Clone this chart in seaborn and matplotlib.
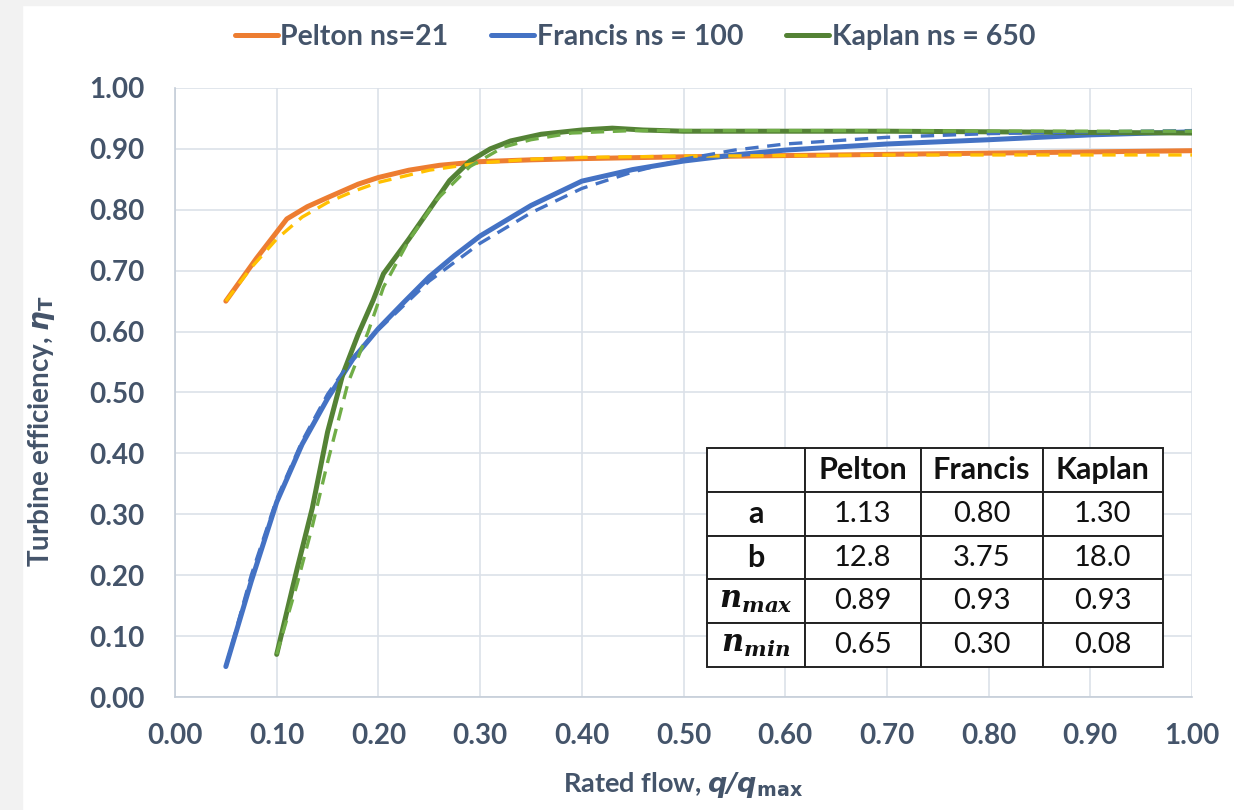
import numpy as np
import matplotlib
matplotlib.use('Agg')
import matplotlib.pyplot as plt
import seaborn as sns
from matplotlib.patches import Rectangle
from matplotlib.lines import Line2D

# efficiency curves (q/qmax, eta)
pelton_x = [0.05, 0.08, 0.11, 0.13, 0.15, 0.18, 0.20, 0.23, 0.26, 0.30, 0.35, 0.40, 0.50, 0.60, 0.70, 0.80, 0.90, 1.00]
pelton_y = [0.65, 0.72, 0.785, 0.805, 0.82, 0.842, 0.853, 0.865, 0.873, 0.879, 0.882, 0.884, 0.887, 0.889, 0.891, 0.893, 0.895, 0.897]
pelton_fit_x = [0.05, 0.075, 0.10, 0.125, 0.15, 0.175, 0.20, 0.25, 0.30, 0.35, 0.40, 0.50, 0.60, 0.70, 0.80, 0.90, 1.00]
pelton_fit_y = [0.65, 0.705, 0.752, 0.788, 0.812, 0.83, 0.845, 0.865, 0.877, 0.883, 0.886, 0.888, 0.889, 0.89, 0.89, 0.89, 0.89]

francis_x = [0.05, 0.075, 0.10, 0.125, 0.15, 0.175, 0.20, 0.225, 0.25, 0.275, 0.30, 0.35, 0.40, 0.45, 0.50, 0.55, 0.60, 0.70, 0.80, 0.90, 1.00]
francis_y = [0.05, 0.19, 0.32, 0.415, 0.49, 0.555, 0.605, 0.648, 0.69, 0.725, 0.757, 0.807, 0.847, 0.866, 0.88, 0.89, 0.898, 0.908, 0.915, 0.923, 0.928]
francis_fit_x = [0.05, 0.075, 0.10, 0.125, 0.15, 0.175, 0.20, 0.25, 0.30, 0.35, 0.40, 0.45, 0.50, 0.55, 0.60, 0.70, 0.80, 0.90, 1.00]
francis_fit_y = [0.05, 0.20, 0.325, 0.42, 0.497, 0.557, 0.603, 0.683, 0.745, 0.795, 0.835, 0.862, 0.883, 0.898, 0.908, 0.919, 0.925, 0.928, 0.93]

kaplan_x = [0.10, 0.12, 0.135, 0.15, 0.165, 0.18, 0.195, 0.205, 0.23, 0.25, 0.27, 0.29, 0.31, 0.33, 0.36, 0.40, 0.43, 0.46, 0.50, 0.60, 0.70, 0.80, 0.90, 1.00]
kaplan_y = [0.07, 0.21, 0.31, 0.435, 0.53, 0.595, 0.652, 0.695, 0.752, 0.80, 0.848, 0.88, 0.90, 0.913, 0.924, 0.931, 0.934, 0.931, 0.929, 0.929, 0.929, 0.928, 0.927, 0.926]
kaplan_fit_x = [0.10, 0.12, 0.135, 0.15, 0.17, 0.19, 0.205, 0.23, 0.257, 0.29, 0.323, 0.35, 0.39, 0.45, 0.50, 0.60, 0.70, 0.80, 0.90, 1.00]
kaplan_fit_y = [0.07, 0.185, 0.28, 0.385, 0.515, 0.60, 0.673, 0.75, 0.816, 0.871, 0.903, 0.915, 0.926, 0.93, 0.93, 0.93, 0.93, 0.929, 0.929, 0.929]

# table of fit parameters
table_cols = ['Pelton', 'Francis', 'Kaplan']
row_a = ['1.13', '0.80', '1.30']
row_b = ['12.8', '3.75', '18.0']
row_nmax = ['0.89', '0.93', '0.93']
row_nmin = ['0.65', '0.30', '0.08']

legend_labels = ['Pelton ns=21', 'Francis ns = 100', 'Kaplan ns = 650']

sns.set_theme(style='white')
plt.rcParams['font.family'] = ['Lato', 'DejaVu Sans']
txt = '#44546A'

fig, ax = plt.subplots(figsize=(12.34, 8.10), dpi=100)
fig.subplots_adjust(left=0.1418, right=0.966, bottom=0.1395, top=0.8914)

# grey strips at the edge of the screenshot
fig.add_artist(Rectangle((0, 0), 22 / 1234, 1, transform=fig.transFigure, color='#F2F2F2', zorder=-10))
fig.add_artist(Rectangle((0, 1 - 5 / 810), 1, 5 / 810, transform=fig.transFigure, color='#F2F2F2', zorder=-10))

solid_lw = 3.6
dash_lw = 2.4
dash = (0, (4, 2.6))

sns.lineplot(x=pelton_x, y=pelton_y, ax=ax, color='#ED7D31', lw=solid_lw, solid_capstyle='round')
sns.lineplot(x=francis_x, y=francis_y, ax=ax, color='#4472C4', lw=solid_lw, solid_capstyle='round')
sns.lineplot(x=kaplan_x, y=kaplan_y, ax=ax, color='#548235', lw=solid_lw, solid_capstyle='round')
sns.lineplot(x=pelton_fit_x, y=pelton_fit_y, ax=ax, color='#FFC000', lw=dash_lw, ls=dash)
sns.lineplot(x=francis_fit_x, y=francis_fit_y, ax=ax, color='#4472C4', lw=dash_lw, ls=dash)
sns.lineplot(x=kaplan_fit_x, y=kaplan_fit_y, ax=ax, color='#70AD47', lw=dash_lw, ls=dash)

ax.set_xlim(0, 1)
ax.set_ylim(0, 1)
ticks = np.arange(0, 1.001, 0.1)
ax.set_xticks(ticks)
ax.set_yticks(ticks)
ax.set_xticklabels([f'{t:.2f}' for t in ticks])
ax.set_yticklabels([f'{t:.2f}' for t in ticks])
ax.tick_params(axis='x', labelsize=20, colors=txt, length=0, pad=19)
ax.tick_params(axis='y', labelsize=20, colors=txt, length=0, pad=22)
plt.setp(ax.get_xticklabels() + ax.get_yticklabels(), fontweight='bold')

ax.grid(True, color='#DCE1E9', lw=1.2)
for s in ['top', 'right']:
    ax.spines[s].set_visible(False)
for s in ['left', 'bottom']:
    ax.spines[s].set_color('#C5CDD8')
    ax.spines[s].set_linewidth(1.2)

ax.set_xlabel(r'Rated flow, $\mathbfit{q/q}_{\mathbf{max}}$', fontsize=19.5, fontweight='bold', color=txt)
ax.set_ylabel(r'Turbine efficiency, $\mathbfit{\eta}_\mathbf{T}$', fontsize=20, fontweight='bold', color=txt)
ax.xaxis.set_label_coords(0.5, -0.12)
ax.yaxis.set_label_coords(-0.116, 0.437)

# parameter table
cell_text = [[''] + table_cols,
             ['a'] + row_a,
             ['b'] + row_b,
             [r'$\mathbfit{n}_{\mathbfit{max}}$'] + row_nmax,
             [r'$\mathbfit{n}_{\mathbfit{min}}$'] + row_nmin]
tab = ax.table(cellText=cell_text, colWidths=[0.215, 0.254, 0.268, 0.263],
               cellLoc='center', bbox=[0.523, 0.049, 0.448, 0.36])
tab.auto_set_font_size(False)
tab.set_fontsize(21)
tab.set_zorder(5)
for (r, c), cell in tab.get_celld().items():
    cell.set_edgecolor('#222222')
    cell.set_linewidth(1.4)
    cell.set_facecolor('white')
    t = cell.get_text()
    t.set_color('#111111')
    if r == 0 or c == 0:
        t.set_fontweight('bold')
        t.set_fontsize(22)
    if c == 0 and r >= 3:
        t.set_math_fontfamily('dejavuserif')
        t.set_fontsize(22)

# legend with the measured curves only
handles = [Line2D([], [], color=c, lw=solid_lw, solid_capstyle='round')
           for c in ['#ED7D31', '#4472C4', '#548235']]
fig.legend(handles, legend_labels, loc='center', bbox_to_anchor=(635 / 1234, 1 - 37 / 810),
           ncol=3, frameon=False, prop={'weight': 'bold', 'size': 20.5}, labelcolor=txt,
           handlelength=1.5, handletextpad=0.1, columnspacing=1.5)

fig.savefig('out.png', dpi=100)
